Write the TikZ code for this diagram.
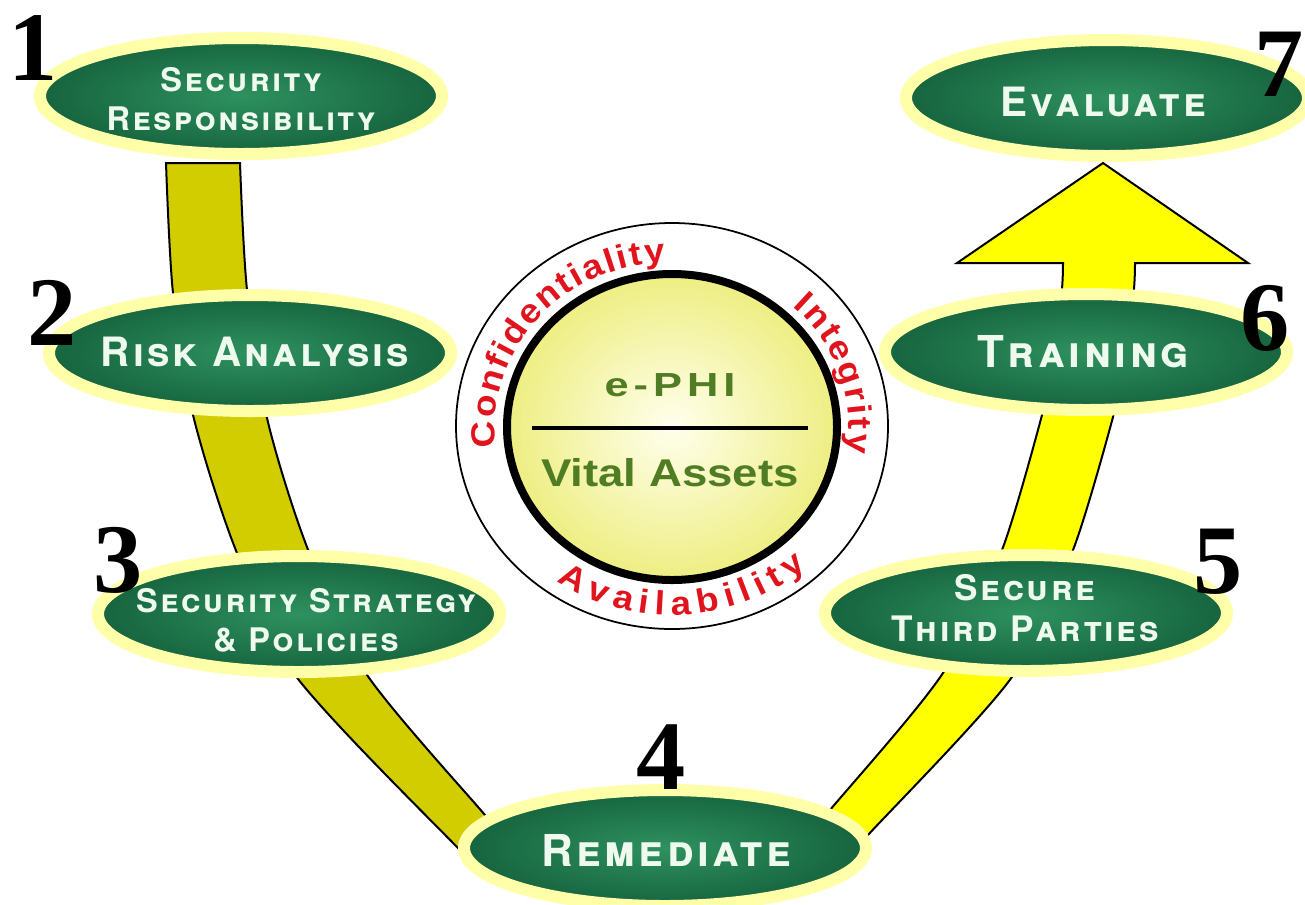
\documentclass[tikz,border=0pt]{standalone}
\usepackage{fontspec}
\usetikzlibrary{shapes.geometric,decorations.text}

\newfontfamily\stagefont{TeX Gyre Heros}[LetterSpace=8]
\newfontfamily\hubfont{Liberation Sans}[FakeStretch=1.18]
\newfontfamily\hubwide{Liberation Sans}[FakeStretch=1.3,LetterSpace=15]
\newfontfamily\ringfont{Liberation Sans}[FakeStretch=1.1]
\newfontfamily\numfont{Liberation Serif}

\definecolor{glowyellow}{RGB}{255,255,170}
\definecolor{stagelight}{RGB}{46,145,95}
\definecolor{stagedark}{RGB}{22,100,62}
\definecolor{stageink}{RGB}{238,250,238}
\definecolor{bandolive}{RGB}{210,205,0}
\definecolor{bandyellow}{RGB}{255,255,0}
\definecolor{hubgreen}{RGB}{80,125,35}
\definecolor{hubpale}{RGB}{255,255,238}
\definecolor{hubyellow}{RGB}{238,238,130}
\definecolor{ringred}{RGB}{225,20,30}

\newcommand\ringtext{\ringfont\bfseries\fontsize{19}{19}\selectfont}

\tikzset{
  stage/.style={ellipse, draw=glowyellow, line width=2.4mm, inner color=stagelight,
    outer color=stagedark, minimum width=80.4mm, minimum height=23.2mm, inner sep=0pt},
  stagelabel/.style={text=stageink, align=center, inner sep=0pt,
    font=\stagefont\bfseries\scshape\fontsize{18.5}{22}\selectfont},
  stagebig/.style={stagelabel, font=\stagefont\bfseries\scshape\fontsize{23}{26}\selectfont},
  digit/.style={inner sep=0pt, text=black, font=\numfont\bfseries\fontsize{56}{56}\selectfont},
  band/.style={draw=black, line width=0.4mm},
  ringtxt/.style={decorate, decoration={text along path, text color=ringred,
    text align={fit to path}, text={|\ringtext|#1}}}
}

\begin{document}
\begin{tikzpicture}[x=0.2mm,y=0.2mm]
\path[use as bounding box, fill=white] (0,0) rectangle (1305,-904);

% bands behind the stages
\fill[band, fill=bandolive] plot[smooth] coordinates {(166,-163) (173,-293) (193,-415) (235,-548) (295,-675) (457,-847) (475,-860)}
   -- plot[smooth] coordinates {(500,-832) (485,-815) (365,-672) (307,-547) (267,-418) (247,-290) (240,-163)} -- cycle;
\fill[band, fill=bandyellow] plot[smooth] coordinates {(814,-829) (830,-810) (943,-673) (1002,-550) (1042,-415)}
   .. controls (1053,-350) and (1063,-310) .. (1063,-263)
   -- (957,-263) -- (1103,-163) -- (1248,-263) -- (1135,-263)
   .. controls (1135,-310) and (1125,-350) .. (1113,-417)
   -- plot[smooth] coordinates {(1113,-417) (1073,-550) (1012,-677) (868,-835) (848,-857)} -- cycle;

% centre
\node[ellipse, draw, line width=0.35mm, fill=white, minimum width=86.4mm, minimum height=81.2mm, inner sep=0pt] (ring) at (672,-426) {};
\node[ellipse, draw, line width=1.6mm, inner color=hubpale, outer color=hubyellow, minimum width=66mm, minimum height=61.2mm, inner sep=0pt] (hub) at (672,-427) {};
\coordinate (divL) at (532,-428);
\coordinate (divR) at (808,-428);
\draw[line width=0.8mm] (divL) -- (divR);
\node[text=hubgreen, font=\hubwide\bfseries\fontsize{19}{21}\selectfont] (ephi) at (670,-385) {e-PHI};
\node[text=hubgreen, font=\hubfont\bfseries\fontsize{22}{24}\selectfont] (assets) at (670,-473) {Vital Assets};

\path[ringtxt=Confidentiality] (hub.center) ++(187:177 and 165) arc[start angle=187, end angle=92, x radius=177, y radius=165];
\path[ringtxt=Integrity] (hub.center) ++(47:177 and 165) arc[start angle=47, end angle=-9, x radius=177, y radius=165];
\path[ringtxt=Availability] (hub.center) ++(235:201 and 188) arc[start angle=235, end angle=312, x radius=201, y radius=188];

% stages
\node[stage] (s1) at (241,-96) {};
\node[stage] (s2) at (250,-353) {};
\node[stage] (s3) at (299,-614) {};
\node[stage] (s4) at (665,-848) {};
\node[stage] (s5) at (1026,-613) {};
\node[stage] (s6) at (1086,-352) {};
\node[stage] (s7) at (1107,-98) {};

\node[stagelabel] (t1) at (241,-99) {Security\\Responsibility};
\node[stagebig] (t2) at (255,-352) {Risk Analysis};
\node[stagelabel] (t3) at (306,-620) {Security Strategy\\\& Policies};
\node[stagebig, font=\stagefont\bfseries\scshape\fontsize{25}{28}\selectfont] (t4) at (666,-850) {Remediate};
\node[stagelabel, font=\stagefont\bfseries\scshape\fontsize{20}{23}\selectfont] (t5) at (1025,-608) {Secure\\Third Parties};
\node[stagebig, font=\stagefont\bfseries\scshape\fontsize{25}{28}\selectfont] (t6) at (1083,-352) {Training};
\node[stagebig] (t7) at (1103,-102) {Evaluate};

% numbers
\node[digit] (n1) at (33,-48) {1};
\node[digit] (n2) at (52,-313) {2};
\node[digit] (n3) at (118,-560) {3};
\node[digit] (n4) at (661,-757) {4};
\node[digit] (n5) at (1218,-562) {5};
\node[digit] (n6) at (1265,-318) {6};
\node[digit] (n7) at (1279,-64) {7};
\end{tikzpicture}
\end{document}
